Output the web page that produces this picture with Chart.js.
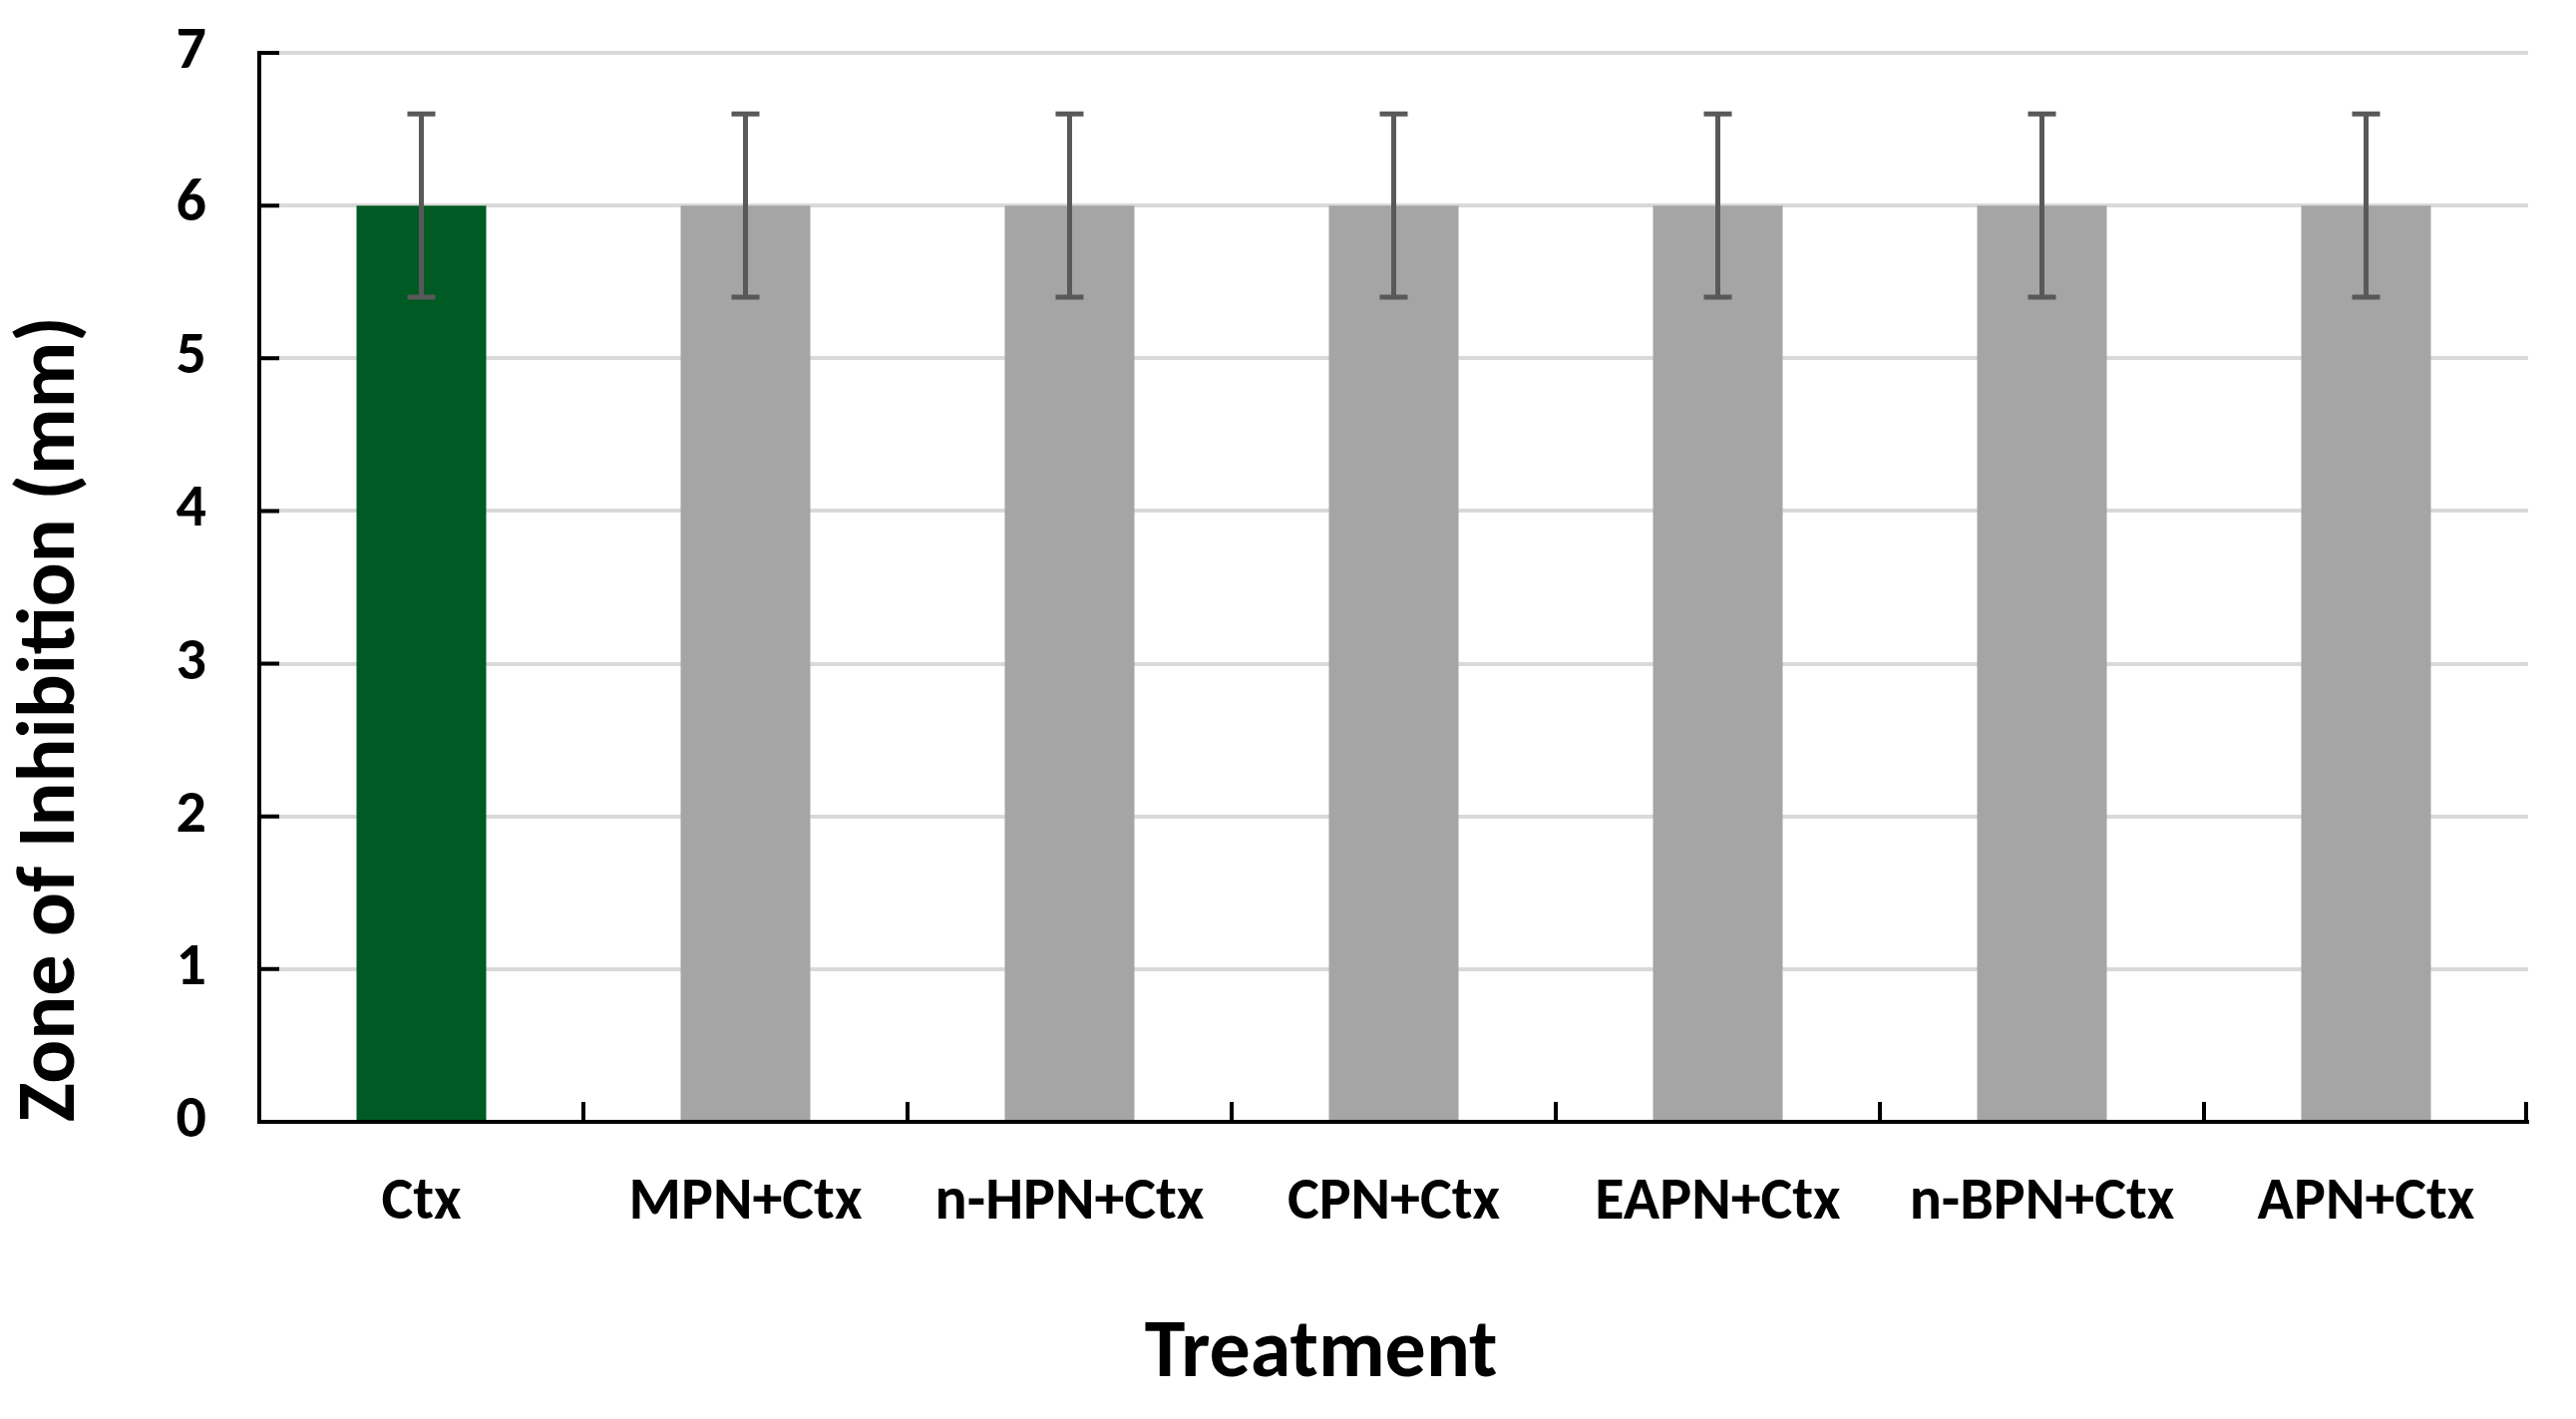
<!DOCTYPE html>
<html>
<head>
<meta charset="utf-8">
<script src="https://cdn.jsdelivr.net/npm/chart.js@4.4.0/dist/chart.umd.min.js"></script>
<style>
    html, body { margin: 0; padding: 0; background: #fff; }
</style>
</head>
<body>
<canvas id="chart" width="2583" height="1423"></canvas>
<script>
// data
const categories = ['Ctx', 'MPN+Ctx', 'n-HPN+Ctx', 'CPN+Ctx', 'EAPN+Ctx', 'n-BPN+Ctx', 'APN+Ctx'];
const zoneValues = [6, 6, 6, 6, 6, 6, 6];
const zoneErrors = [0.6, 0.6, 0.6, 0.6, 0.6, 0.6, 0.6];
const barColors = ['#005a23', '#a5a5a5', '#a5a5a5', '#a5a5a5', '#a5a5a5', '#a5a5a5', '#a5a5a5'];
const yMin = 0, yMax = 7, yStep = 1;
const xTitle = 'Treatment';

const FONT = 'Carlito, Lato, "Liberation Sans", sans-serif';

// error bars, inward tick marks and the x title
const extras = {
    id: 'extras',
    afterDatasetsDraw(chart) {
        const { ctx, scales: { x, y } } = chart;
        ctx.save();

        // error bars
        ctx.strokeStyle = '#595959';
        ctx.lineWidth = 5;
        zoneValues.forEach((v, i) => {
            const px = x.getPixelForValue(i);
            const top = y.getPixelForValue(v + zoneErrors[i]);
            const bot = y.getPixelForValue(v - zoneErrors[i]);
            ctx.beginPath();
            ctx.moveTo(px, top); ctx.lineTo(px, bot);
            ctx.moveTo(px - 14, top); ctx.lineTo(px + 14, top);
            ctx.moveTo(px - 14, bot); ctx.lineTo(px + 14, bot);
            ctx.stroke();
        });

        // inner ticks
        ctx.strokeStyle = '#000';
        ctx.lineWidth = 4;
        ctx.beginPath();
        for (let v = yMin; v <= yMax; v += yStep) {
            const py = y.getPixelForValue(v);
            ctx.moveTo(x.left, py); ctx.lineTo(x.left + 20, py);
        }
        for (let i = 0; i < categories.length; i++) {
            const bx = i < categories.length - 1
                ? (x.getPixelForValue(i) + x.getPixelForValue(i + 1)) / 2
                : x.right - 2;
            ctx.moveTo(bx, y.bottom); ctx.lineTo(bx, y.bottom - 20);
        }
        ctx.stroke();

        // x title sits a bit left of the plot centre in the original
        ctx.fillStyle = '#000';
        ctx.font = 'bold 82px ' + FONT;
        ctx.textAlign = 'center';
        ctx.textBaseline = 'middle';
        ctx.fillText(xTitle, x.left + (x.right - x.left) * 0.468, chart.height - 64);
        ctx.restore();
    }
};

new Chart(document.getElementById('chart'), {
    type: 'bar',
    data: {
        labels: categories,
        datasets: [{
            label: 'Zone of Inhibition',
            data: zoneValues,
            backgroundColor: barColors,
            borderWidth: 0,
            barPercentage: 0.4,
            categoryPercentage: 1.0
        }]
    },
    options: {
        responsive: false,
        animation: false,
        layout: { padding: { left: 0, top: 53, right: 48, bottom: 0 } },
        plugins: {
            legend: { display: false },
            tooltip: { enabled: false }
        },
        scales: {
            x: {
                offset: true,
                grid: { display: false, drawTicks: false },
                border: { display: true, color: '#000', width: 4 },
                ticks: {
                    color: '#000',
                    padding: 46,
                    maxRotation: 0,
                    font: { family: FONT, size: 60, weight: 'bold', lineHeight: 1.2 }
                },
                afterFit(scale) { scale.height = 298; }
            },
            y: {
                min: yMin,
                max: yMax,
                ticks: {
                    stepSize: yStep,
                    color: '#000',
                    padding: 53,
                    font: { family: FONT, size: 60, weight: 'bold' }
                },
                grid: { color: '#d9d9d9', lineWidth: 4, drawTicks: false },
                border: { display: true, color: '#000', width: 4 },
                title: {
                    display: true,
                    text: 'Zone of Inhibition (mm)',
                    align: 'start',
                    color: '#000',
                    padding: { top: 12, bottom: 0 },
                    font: { family: FONT, size: 82, weight: 'bold', lineHeight: 1 }
                },
                afterFit(scale) {
                    scale.width = 260;
                    scale.paddingTop = 0;
                    scale.paddingBottom = 0;
                }
            }
        }
    },
    plugins: [extras]
});
</script>
</body>
</html>
